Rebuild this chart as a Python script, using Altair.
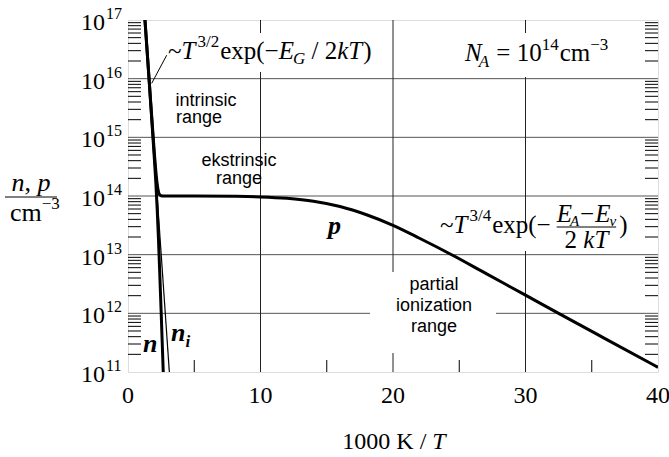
import altair as alt
import pandas as pd

# ---------------- data ----------------
# hole concentration p (log10 cm^-3) versus 1000 K / T
p_x = [1.28, 1.6, 2.0, 2.1, 2.2, 2.3, 2.4, 2.6, 3.0, 5.0, 8.0, 10.0, 12.0, 14.0,
       16.0, 18.0, 20.0, 22.0, 24.5, 27.0, 30.0, 32.5, 36.0, 40.0]
p_log = [17.0, 15.96, 14.70, 14.43, 14.21, 14.07, 14.02, 14.0, 14.0, 14.0, 13.995, 13.985, 13.96, 13.91,
         13.82, 13.68, 13.50, 13.28, 12.99, 12.68, 12.31, 12.00, 11.57, 11.08]
# electron concentration n
n_x = [1.28, 1.6, 2.0, 2.1, 2.2, 2.3, 2.4, 2.5, 2.66]
n_log = [17.0, 15.96, 14.60, 14.23, 13.79, 13.27, 12.66, 12.04, 11.0]
# intrinsic concentration n_i
ni_x = [1.28, 3.12]
ni_log = [17.0, 11.0]
# leader line of the intrinsic formula
lead_x = [2.92, 1.79]
lead_log = [16.40, 15.921]

decades = [11, 12, 13, 14, 15, 16, 17]
x_ticks = [0, 10, 20, 30, 40]
x_grid = [10, 20, 30]
x_minor = [5, 15, 25, 35]

# ---------------- layout ----------------
W, H = 530, 352
PL, PT = 128, 20
X0, X1 = 0, 40
L0, L1 = 11, 17
SERIF = "Liberation Serif"
SANS = "Liberation Sans"
S = 25   # label serif size
s = 17   # script size
SA = 24  # axis text size


def px2x(px):
    return X0 + (px - PL) / W * (X1 - X0)


def py2y(py):
    return 10 ** (L1 - (py - PT) / H * (L1 - L0))


xs = alt.Scale(domain=[X0, X1], nice=False, zero=False)
ys = alt.Scale(type="log", domain=[10 ** L0, 10 ** L1], nice=False)

# glyph advance widths (Times metrics, 1/1000 em)
W_R = {' ': 250, '(': 333, ')': 333, '/': 278, '~': 541, '−': 564, '=': 564, 'c': 444,
       'e': 444, 'm': 778, 'p': 500, 'x': 500, 'K': 722, ',': 250}
for d in '0123456789':
    W_R[d] = 500
W_I = {'T': 556, 'E': 611, 'G': 722, 'k': 444, 'A': 611, 'N': 667, 'n': 500, 'p': 500,
       'v': 444, 'i': 278, ' ': 250}


def width(t, st, size):
    tab = W_I if st == 'i' else W_R
    return sum(tab.get(c, 500) for c in t) * size / 1000.0


pieces = []


def run(x0, base, items):
    x = x0
    for t, st, size, rise, gap in items:
        x += gap
        lead = len(t) - len(t.lstrip(' '))
        pieces.append(dict(text=t.strip(), st=st, size=size,
                           px=x + lead * 250 * size / 1000.0, py=base - rise))
        x += width(t, st, size)
    return x


# ~T^{3/2} exp(-E_G / 2kT)
run(168, 59, [("~", 'r', S, 0, 0), ("T", 'i', S, 0, 0), ("3/2", 'r', s, 12, 2),
              ("exp(−", 'r', S, 0, 1), ("E", 'i', S, 0, 0), ("G", 'i', s, -5, -1),
              (" / 2", 'r', S, 0, 0), ("kT", 'i', S, 0, 0), (")", 'r', S, 0, 1)])
# N_A = 10^14 cm^-3
run(465, 61, [("N", 'i', S, 0, 0), ("A", 'i', s, -6, -3), (" = 10", 'r', S, 0, 1),
              ("14", 'r', s, 11, 0), ("cm", 'r', S, 0, 1), ("−3", 'r', s, 11, 0)])
# ~T^{3/4} exp(-(E_A-E_v)/(2kT))
e3 = run(440, 233, [("~", 'r', S, 0, 0), ("T", 'i', S, 0, 0), ("3/4", 'r', s, 12, 2),
                    ("exp(−", 'r', S, 0, 1)])
num0 = e3 + 6
num1 = run(num0, 222, [("E", 'i', S, 0, 0), ("A", 'i', 15, -4, -2), ("−", 'r', S, 0, 1),
                       ("E", 'i', S, 0, 1), ("v", 'i', 15, -4, -1)])
den_w = width("2 ", 'r', S) + width("kT", 'i', S)
run((num0 + num1) / 2 - den_w / 2, 248, [("2 ", 'r', S, 0, 0), ("kT", 'i', S, 0, 0)])
run(num1 + 3, 233, [(")", 'r', S, 0, 0)])
# y title  n, p / cm^-3
ST = 26
yt_w = width("n", 'i', ST) + width(", ", 'r', ST) + width("p", 'i', ST)
run(31 - yt_w / 2, 191, [("n", 'i', ST, 0, 0), (", ", 'r', ST, 0, 0), ("p", 'i', ST, 0, 0)])
run(10, 221, [("cm", 'r', ST, 0, 0), ("−3", 'r', s, 12, 0)])
# x title 1000 K / T
xt_w = width("1000 K / ", 'r', SA) + width("T", 'i', SA)
run(394 - xt_w / 2, 449, [("1000 K / ", 'r', SA, 0, 0), ("T", 'i', SA, 0, 0)])

pc = pd.DataFrame(pieces)
pc["x"] = pc["px"].map(px2x)
pc["y"] = pc["py"].map(py2y)

# fraction bars
bars = pd.DataFrame([
    dict(x=px2x(num0), x2=px2x(num1), y=py2y(227)),
    dict(x=px2x(5), x2=px2x(57), y=py2y(197)),
])

# white label boxes (px extents)
boxes_px = [(163, 375, 33, 72), (462, 628, 33, 77), (438, 640, 227, 251), (370, 496, 272, 353)]
boxes = pd.DataFrame([dict(x=px2x(a), x2=px2x(b), y=py2y(c), y2=py2y(d)) for a, b, c, d in boxes_px])

# y tick labels
ytl = pd.DataFrame(dict(text=["10"] * len(decades),
                        x=[px2x(105)] * len(decades),
                        y=[10 ** (d - 10 / 58.667) for d in decades]))
yex = pd.DataFrame(dict(text=[str(d) for d in decades],
                        x=[px2x(106)] * len(decades),
                        y=[10 ** (d + 1 / 58.667) for d in decades]))
xtl = pd.DataFrame(dict(text=[str(v) for v in x_ticks], x=x_ticks, y=[py2y(403)] * len(x_ticks)))

# sans labels
sans = pd.DataFrame(dict(
    text=["intrinsic", "range", "ekstrinsic", "range", "partial", "ionization", "range"],
    x=[px2x(v) for v in [206, 199, 239, 239, 434, 434, 434]],
    y=[py2y(v) for v in [106, 123, 166, 184, 290, 311, 332]]))

# bold italic symbol labels
bi = pd.DataFrame(dict(text=["p", "n", "n", "i"],
                       size=[26, 26, 26, 17],
                       x=[px2x(v) for v in [328, 143, 171, 185.5]],
                       y=[py2y(v) for v in [234, 352, 341, 347]]))

# ---------------- layers ----------------
X = lambda f='x': alt.X(f + ':Q', scale=xs, axis=None)
Y = lambda f='y': alt.Y(f + ':Q', scale=ys, axis=None)

grid_h = alt.Chart(pd.DataFrame(dict(y=[10.0 ** d for d in decades[1:-1]]))).mark_rule(
    color="#555", strokeWidth=1).encode(y=Y())
grid_v = alt.Chart(pd.DataFrame(dict(x=x_grid))).mark_rule(color="#222", strokeWidth=1).encode(x=X())

minor_vals = [k * 10.0 ** d for d in decades[:-1] for k in range(2, 10)]
mdf = pd.DataFrame(dict(y=minor_vals))
minor_l = alt.Chart(mdf).mark_rule(color="black", strokeWidth=1).encode(
    y=Y(), x=alt.value(0), x2=alt.value(13))
minor_r = alt.Chart(mdf).mark_rule(color="black", strokeWidth=1).encode(
    y=Y(), x=alt.value(W - 13), x2=alt.value(W))
minor_b = alt.Chart(pd.DataFrame(dict(x=x_minor))).mark_rule(color="black", strokeWidth=1).encode(
    x=X(), y=alt.value(H), y2=alt.value(H - 12))

box_layer = alt.Chart(boxes).mark_rect(fill="white", stroke=None).encode(
    x=X(), x2='x2:Q', y=Y(), y2='y2:Q')

pdf = pd.DataFrame(dict(x=p_x, y=[10 ** v for v in p_log]))
ndf = pd.DataFrame(dict(x=n_x, y=[10 ** v for v in n_log]))
nidf = pd.DataFrame(dict(x=ni_x, y=[10 ** v for v in ni_log]))
p_line = alt.Chart(pdf).mark_line(color="black", strokeWidth=3, clip=True,
                                  interpolate="monotone").encode(x=X(), y=Y())
n_line = alt.Chart(ndf).mark_line(color="black", strokeWidth=3, clip=True).encode(x=X(), y=Y())
ni_line = alt.Chart(nidf).mark_line(color="black", strokeWidth=1.2, clip=True).encode(x=X(), y=Y())
lead = alt.Chart(pd.DataFrame(dict(x=lead_x, y=[10 ** v for v in lead_log]))).mark_line(
    color="black", strokeWidth=1).encode(x=X(), y=Y())
bar_layer = alt.Chart(bars).mark_rule(color="black", strokeWidth=1).encode(x=X(), x2='x2:Q', y=Y())


def tl(df, font, style, weight, align, size=None):
    kw = dict(font=font, fontStyle=style, fontWeight=weight, align=align,
              baseline="alphabetic", color="black")
    enc = dict(x=X(), y=Y(), text='text:N')
    if size is None:
        enc['size'] = alt.Size('size:Q', scale=None, legend=None)
    else:
        kw['fontSize'] = size
    return alt.Chart(df).mark_text(**kw).encode(**enc)


txt_r = tl(pc[pc.st == 'r'], SERIF, "normal", "normal", "left")
txt_i = tl(pc[pc.st == 'i'], SERIF, "italic", "normal", "left")
ytl_l = tl(ytl, SERIF, "normal", "normal", "right", SA)
yex_l = tl(yex, SERIF, "normal", "normal", "left", 16)
xtl_l = tl(xtl, SERIF, "normal", "normal", "center", SA)
sans_l = tl(sans, SANS, "normal", "normal", "center", 18)
bi_l = tl(bi, SERIF, "italic", "bold", "left")

chart = alt.layer(
    grid_h, grid_v, minor_l, minor_r, minor_b, box_layer,
    ni_line, n_line, p_line, lead, bar_layer,
    txt_r, txt_i, ytl_l, yex_l, xtl_l, sans_l, bi_l,
).properties(
    width=W, height=H,
    autosize=alt.AutoSizeParams(type="none"),
    padding={"left": PL, "top": PT, "right": 669 - PL - W, "bottom": 457 - PT - H},
).configure_view(stroke="black", strokeWidth=1.2).configure(background="white")

chart.save("out.html", embed_options={"renderer": "svg", "actions": False})
